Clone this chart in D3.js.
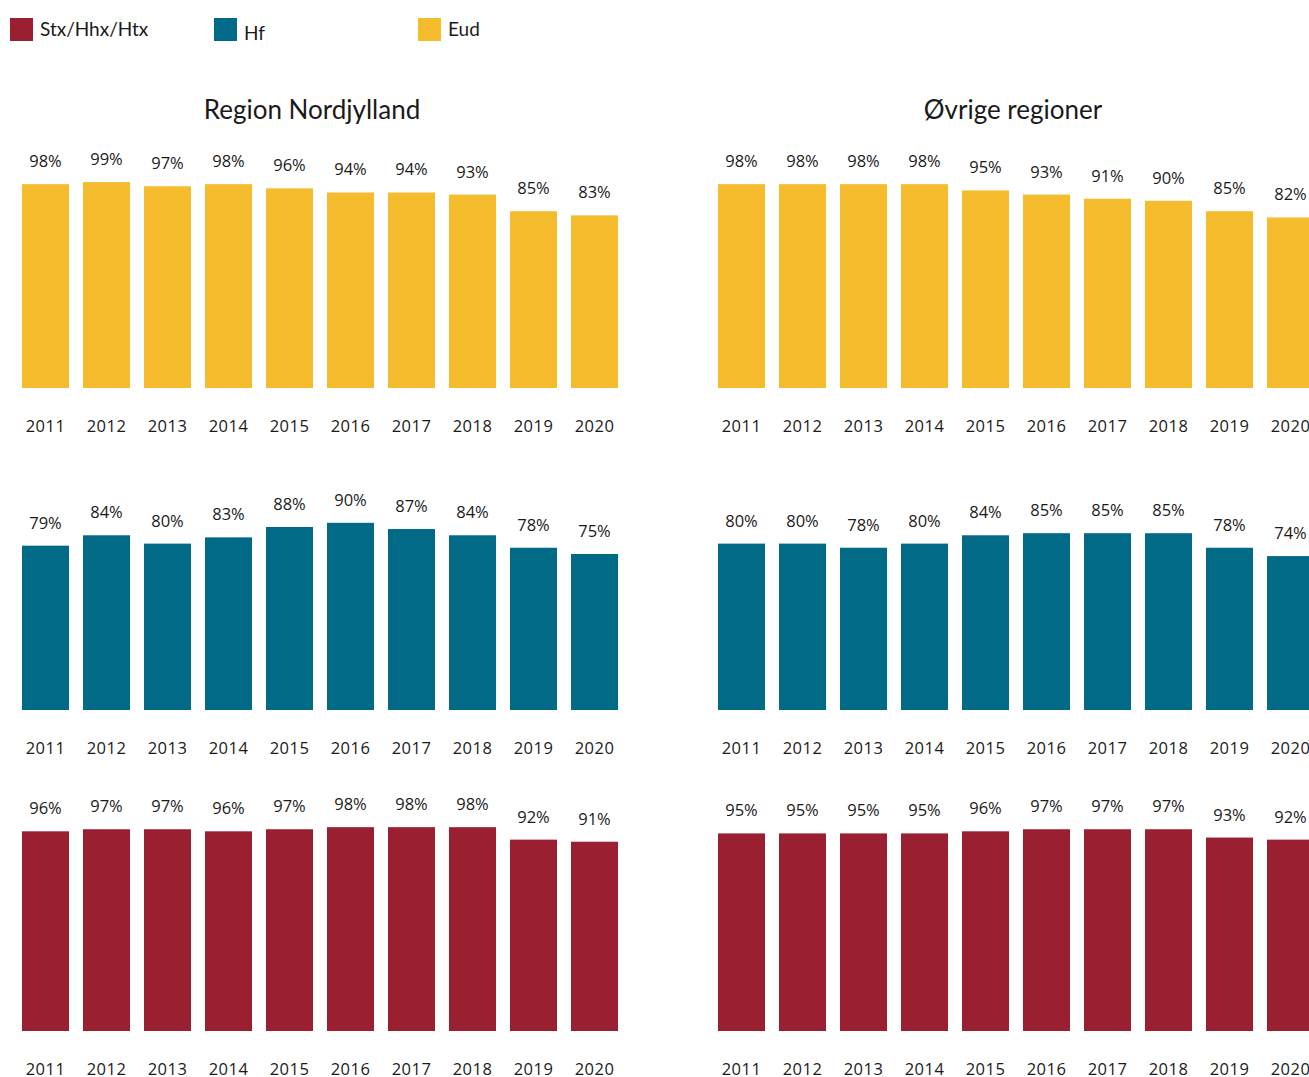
<!DOCTYPE html>
<html><head><meta charset="utf-8">
<script src="https://cdn.jsdelivr.net/npm/d3@7"></script>
<style>body{margin:0;background:#fff}svg{display:block}</style>
</head><body>
<svg id="c" width="1309" height="1077"></svg>
<script>
const years = ["2011","2012","2013","2014","2015","2016","2017","2018","2019","2020"];
const regions = ["Region Nordjylland","Øvrige regioner"];
const seriesNames = ["Stx/Hhx/Htx","Hf","Eud"];
const colors = ["#991F31","#006A87","#F5BC2E"];
// values per region
const eudNord = [98,99,97,98,96,94,94,93,85,83];
const eudOvr  = [98,98,98,98,95,93,91,90,85,82];
const hfNord  = [79,84,80,83,88,90,87,84,78,75];
const hfOvr   = [80,80,78,80,84,85,85,85,78,74];
const stxNord = [96,97,97,96,97,98,98,98,92,91];
const stxOvr  = [95,95,95,95,96,97,97,97,93,92];

const rows = [
  {color:colors[2], data:[eudNord, eudOvr], base:388},
  {color:colors[1], data:[hfNord, hfOvr], base:710},
  {color:colors[0], data:[stxNord, stxOvr], base:1031}
];
const panelX = [22, 718];
const step = 61, barW = 47;

const svg = d3.select("#c");
const labelFont = "'Open Sans', 'DejaVu Sans', sans-serif";
const titleFont = "Lato, 'Noto Sans', sans-serif";

// legend
const legX = [10, 214, 418];
seriesNames.forEach((n,i)=>{
  svg.append("rect").attr("x",legX[i]).attr("y",18).attr("width",23).attr("height",23).attr("fill",colors[i]);
  svg.append("text").attr("x",legX[i]+30).attr("y", i===1 ? 40 : 36).attr("font-family",titleFont)
    .attr("font-size",19).attr("fill","#1a1a1a").text(n);
});

// titles
regions.forEach((r,i)=>{
  const cx = i===0 ? 312 : 1013;
  svg.append("text").attr("x",cx).attr("y",119).attr("text-anchor","middle")
    .attr("font-family",titleFont).attr("font-size",26).attr("fill","#1a1a1a").text(r);
});

rows.forEach(row=>{
  regions.forEach((r,pi)=>{
    const x = d3.scaleBand().domain(years)
      .range([panelX[pi], panelX[pi] + step*(years.length-1) + barW])
      .paddingInner((step-barW)/step).paddingOuter(0).align(0);
    const y = d3.scaleLinear().domain([0,100]).range([row.base, row.base-208]);
    const g = svg.append("g");
    const vals = row.data[pi];
    g.selectAll("rect").data(vals).join("rect")
      .attr("x",(d,i)=>x(years[i])).attr("width",x.bandwidth())
      .attr("y",d=>y(d)).attr("height",d=>y(0)-y(d))
      .attr("fill",row.color);
    g.selectAll("text.v").data(vals).join("text").attr("class","v")
      .attr("x",(d,i)=>x(years[i])+x.bandwidth()/2).attr("y",d=>y(d)-17)
      .attr("text-anchor","middle").attr("font-family",labelFont).attr("font-size",16.5)
      .attr("fill","#1a1a1a").text(d=>d+"%");
    const ax = d3.axisBottom(x).tickSize(0).tickPadding(0);
    const axg = svg.append("g").attr("transform",`translate(0,${row.base+44})`).call(ax);
    axg.select(".domain").remove();
    axg.selectAll("text").attr("font-family",labelFont).attr("font-size",16.5).attr("fill","#1a1a1a").attr("dy",0)
      .attr("letter-spacing",0.5);
  });
});
</script>
</body></html>
